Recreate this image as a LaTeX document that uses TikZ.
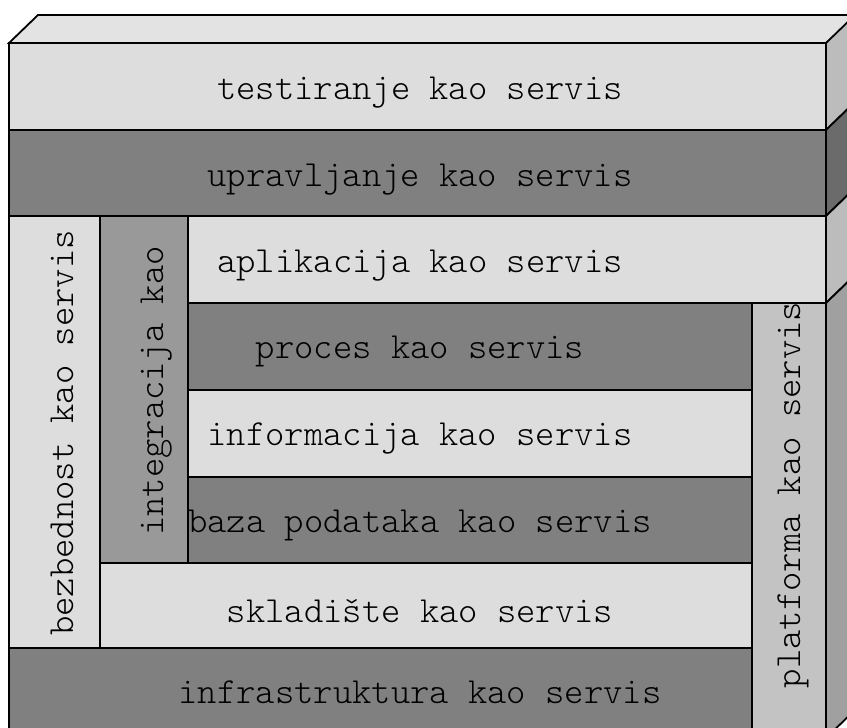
\documentclass[tikz,border=0pt]{standalone}
\usepackage{fontspec}
\setmonofont{Latin Modern Mono Light}
\definecolor{topc}{HTML}{E3E3E3}
\definecolor{lightc}{HTML}{DDDDDD}
\definecolor{darkc}{HTML}{808080}
\definecolor{integc}{HTML}{999999}
\definecolor{platc}{HTML}{C3C3C3}
\definecolor{sidel}{HTML}{BCBCBC}
\definecolor{sided}{HTML}{6B6B6B}
\definecolor{sidem}{HTML}{A0A0A0}
\begin{document}
\begin{tikzpicture}[x=0.5pt,y=-0.5pt,
  face/.style={draw=black,line width=0.9pt,line join=miter},
  lbl/.style={font=\fontsize{18.4}{20}\selectfont\ttfamily,inner sep=0pt,anchor=base},
  vlbl/.style={lbl,rotate=90}]
\useasboundingbox (0,0) rectangle (847,728);
\clip (0,0) rectangle (847,728);
% top face
\filldraw[face,fill=topc] (9,43) -- (38,15) -- (860,15) -- (826,43) -- cycle;
% right faces
\filldraw[face,fill=sidel] (826,43) -- (855,15) -- (855,102) -- (826,130) -- cycle;
\filldraw[face,fill=sided] (826,130) -- (855,102) -- (855,188) -- (826,216) -- cycle;
\filldraw[face,fill=sidel] (826,216) -- (855,188) -- (855,275) -- (826,303) -- cycle;
\filldraw[face,fill=sidem] (826,303) -- (855,275) -- (855,710) -- (826,738) -- cycle;
% front blocks
\filldraw[face,fill=lightc] (9,43) rectangle (826,130);
\filldraw[face,fill=darkc] (9,130) rectangle (826,216);
\filldraw[face,fill=lightc] (188,216) rectangle (826,303);
\filldraw[face,fill=lightc] (9,216) rectangle (100,648);
\filldraw[face,fill=integc] (100,216) rectangle (188,563);
\filldraw[face,fill=darkc] (188,303) rectangle (752,390);
\filldraw[face,fill=lightc] (188,390) rectangle (752,477);
\filldraw[face,fill=darkc] (188,477) rectangle (752,563);
\filldraw[face,fill=lightc] (100,563) rectangle (752,648);
\filldraw[face,fill=darkc] (9,648) rectangle (752,738);
\filldraw[face,fill=platc] (752,303) rectangle (826,738);
% labels
\node[lbl] (testiranje) at (420,99) {testiranje kao servis};
\node[lbl] (upravljanje) at (420,186) {upravljanje kao servis};
\node[lbl] (aplikacija) at (420,272) {aplikacija kao servis};
\node[lbl] (proces) at (420,358) {proces kao servis};
\node[lbl] (informacija) at (420,445) {informacija kao servis};
\node[lbl] (baza) at (420,532) {baza podataka kao servis};
\node[lbl] (skladiste) at (420,622) {skladište kao servis};
\node[lbl] (infra) at (420,703) {infrastruktura kao servis};
\node[vlbl] (bezbednost) at (73,433) {bezbednost kao servis};
\node[vlbl] (integracija) at (163,391) {integracija kao};
\node[vlbl] (platforma) at (800,495) {platforma kao servis};
\end{tikzpicture}
\end{document}
